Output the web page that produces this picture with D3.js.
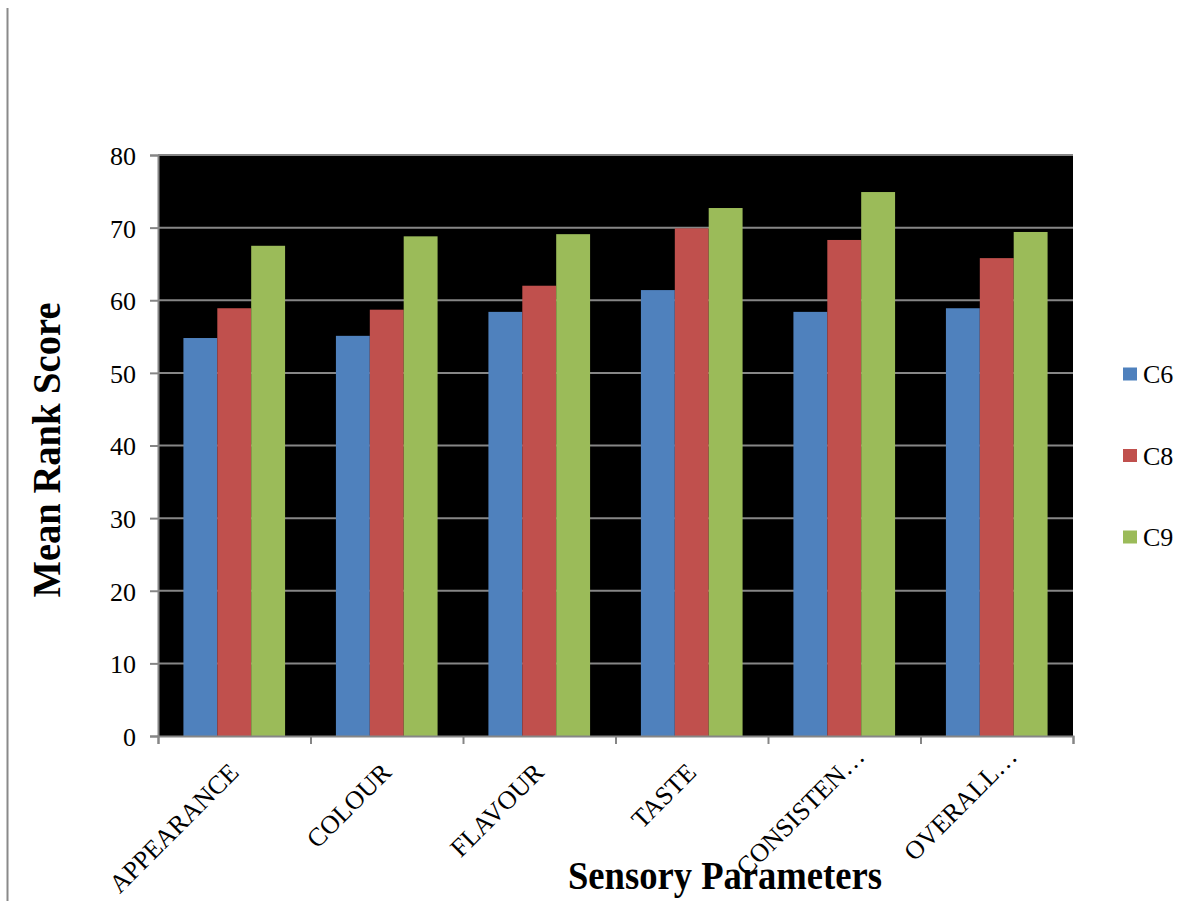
<!DOCTYPE html>
<html>
<head>
<meta charset="utf-8">
<script src="https://cdn.jsdelivr.net/npm/d3@7"></script>
<style>
  html, body { margin: 0; padding: 0; background: #fff; }
  svg { display: block; }
  text { font-family: "Liberation Serif", "Times New Roman", serif; fill: #000; }
</style>
</head>
<body>
<svg id="chart" width="1204" height="901"></svg>
<script>
// Sensory evaluation: mean rank scores per parameter for three samples
const categories = ["APPEARANCE", "COLOUR", "FLAVOUR", "TASTE", "CONSISTEN\u2026", "OVERALL\u2026"];
const seriesNames = ["C6", "C8", "C9"];
const c6 = [54.8, 55.1, 58.4, 61.4, 58.4, 58.9];
const c8 = [58.9, 58.7, 62.0, 69.9, 68.3, 65.8];
const c9 = [67.5, 68.8, 69.1, 72.7, 74.9, 69.4];
const yTicks = [0, 10, 20, 30, 40, 50, 60, 70, 80];
const seriesColors = ["#4F81BD", "#C0504D", "#9BBB59"];

const seriesValues = [c6, c8, c9];
const rows = categories.map((cat, i) => ({
  cat,
  vals: seriesNames.map((s, k) => ({ s, v: seriesValues[k][i] }))
}));

const svg = d3.select("#chart");
const plot = { left: 158, right: 1073, top: 155, bottom: 736 };
const axisGray = "#868686";

// Outer frame line on the left edge of the figure
svg.append("line")
  .attr("x1", 7.5).attr("x2", 7.5)
  .attr("y1", 8).attr("y2", 901)
  .attr("stroke", "#8a8a8a").attr("stroke-width", 2);

const x0 = d3.scaleBand().domain(categories).range([plot.left, plot.right]).padding(0);
const x1 = d3.scaleBand().domain(seriesNames).range([0, x0.bandwidth()])
  .paddingInner(0).paddingOuter(0.75);
const y = d3.scaleLinear().domain([0, 80]).range([plot.bottom, plot.top]);
const color = d3.scaleOrdinal().domain(seriesNames).range(seriesColors);

// Plot area background
svg.append("rect")
  .attr("x", plot.left).attr("y", plot.top)
  .attr("width", plot.right - plot.left).attr("height", plot.bottom - plot.top)
  .attr("fill", "#000");

// Horizontal gridlines
svg.append("g").selectAll("line")
  .data(yTicks.filter(t => t > 0))
  .join("line")
  .attr("x1", plot.left).attr("x2", plot.right)
  .attr("y1", d => y(d)).attr("y2", d => y(d))
  .attr("stroke", axisGray).attr("stroke-width", 2);

// Bars
svg.append("g").selectAll("g")
  .data(rows)
  .join("g")
  .attr("transform", d => `translate(${x0(d.cat)},0)`)
  .selectAll("rect")
  .data(d => d.vals)
  .join("rect")
  .attr("x", d => x1(d.s))
  .attr("width", x1.bandwidth())
  .attr("y", d => y(d.v))
  .attr("height", d => y(0) - y(d.v))
  .attr("fill", d => color(d.s));

// Y axis
const yAxis = svg.append("g")
  .attr("transform", `translate(${plot.left},0)`)
  .call(d3.axisLeft(y).tickValues(yTicks).tickSize(8).tickPadding(14).tickFormat(d3.format("d")));
yAxis.select(".domain").attr("stroke", axisGray).attr("stroke-width", 2);
yAxis.selectAll(".tick line").attr("stroke", axisGray).attr("stroke-width", 2);
yAxis.selectAll(".tick text")
  .attr("font-size", 26)
  .attr("font-family", "Liberation Serif, serif")
  .attr("dy", "0.36em");

// X axis: ticks sit on category boundaries
const boundaries = d3.range(categories.length + 1);
const xb = d3.scaleLinear().domain([0, categories.length]).range([plot.left, plot.right]);
const xAxis = svg.append("g")
  .attr("transform", `translate(0,${plot.bottom})`)
  .call(d3.axisBottom(xb).tickValues(boundaries).tickSize(8).tickFormat(""));
xAxis.select(".domain").attr("stroke", axisGray).attr("stroke-width", 2);
xAxis.selectAll(".tick line").attr("stroke", axisGray).attr("stroke-width", 2);

// Rotated category labels; truncated labels sit a little further along the slant
svg.append("g").selectAll("text")
  .data(categories)
  .join("text")
  .attr("transform", d => {
    const shift = d.endsWith("\u2026") ? 16 : 0;
    const cx = x0(d) + x0.bandwidth() / 2 + 6 + shift;
    const cy = plot.bottom + 38 - shift;
    return `translate(${cx},${cy}) rotate(-45)`;
  })
  .attr("text-anchor", "end")
  .attr("font-size", 26)
  .text(d => d);

// Axis titles
svg.append("text")
  .attr("x", 725).attr("y", 889)
  .attr("text-anchor", "middle")
  .attr("font-size", 39).attr("font-weight", "bold")
  .attr("textLength", 314).attr("lengthAdjust", "spacingAndGlyphs")
  .text("Sensory Parameters");

svg.append("text")
  .attr("transform", "translate(60,450) rotate(-90)")
  .attr("text-anchor", "middle")
  .attr("font-size", 40).attr("font-weight", "bold")
  .attr("textLength", 295).attr("lengthAdjust", "spacingAndGlyphs")
  .text("Mean Rank Score");

// Legend
const legend = svg.append("g").selectAll("g")
  .data(seriesNames)
  .join("g")
  .attr("transform", (d, i) => `translate(1123,${374 + i * 81.5})`);
legend.append("rect")
  .attr("x", 0).attr("y", -6.5)
  .attr("width", 14).attr("height", 13)
  .attr("fill", d => color(d));
legend.append("text")
  .attr("x", 20).attr("y", 9)
  .attr("font-size", 26)
  .text(d => d);
</script>
</body>
</html>
